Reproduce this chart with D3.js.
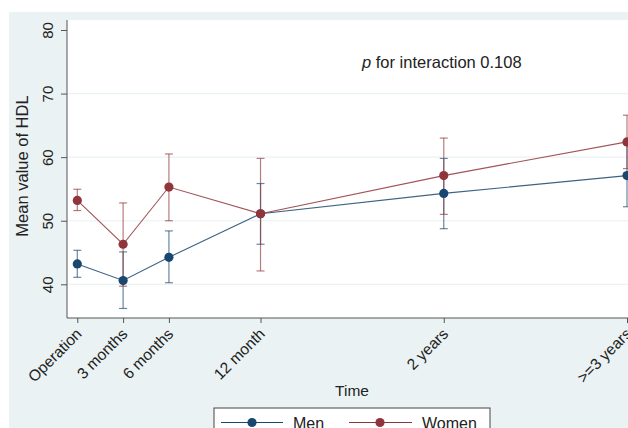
<!DOCTYPE html>
<html>
<head>
<meta charset="utf-8">
<script src="https://cdn.jsdelivr.net/npm/d3@7/dist/d3.min.js"></script>
<style>
  html, body { margin: 0; padding: 0; background: #fff; }
  svg { display: block; font-family: "Liberation Sans", Arial, sans-serif; }
</style>
</head>
<body>
<svg id="chart" width="628" height="428"></svg>
<script>
// Follow-up time points (months after operation) and their labels
const timeLabels = ["Operation", "3 months", "6 months", "12 month", "2 years", ">=3 years"];
const timeMonths = [0, 3, 6, 12, 24, 36];

// Mean HDL with 95% confidence limits
const menMean  = [43.2, 40.6, 44.25, 51.1, 54.3, 57.1];
const menLow   = [41.1, 36.2, 40.25, 46.3, 48.75, 52.2];
const menHigh  = [45.35, 45.1, 48.4, 55.85, 59.8, 62.0];

const womenMean = [53.2, 46.3, 55.3, 51.1, 57.1, 62.4];
const womenLow  = [51.6, 39.7, 50.0, 42.1, 51.0, 58.2];
const womenHigh = [54.95, 52.8, 60.5, 59.8, 63.0, 66.6];

const yTicks = [40, 50, 60, 70, 80];
const seriesNames = ["Men", "Women"];
const annotation = "for interaction 0.108";

const navy = "#1a476f", maroon = "#90353b";
const bg = "#eaf2f3";
const FONT = "Liberation Sans, Arial, sans-serif";

const svg = d3.select("#chart");
const W = 628, H = 428;

// Graph region and plot region
svg.append("rect").attr("x", 9).attr("y", 12).attr("width", W - 9).attr("height", H - 12).attr("fill", bg);
const plot = { left: 67, top: 20, right: 640, bottom: 318 };
svg.append("rect").attr("x", plot.left).attr("y", plot.top)
  .attr("width", plot.right - plot.left).attr("height", plot.bottom - plot.top).attr("fill", "#fff");

const x = d3.scaleLinear().domain([0, 36]).range([77.3, 627]);
const y = d3.scaleLinear().domain([40, 80]).range([284.3, 30]);

// Horizontal grid lines
svg.append("g").selectAll("line").data(yTicks.filter(t => t < 80)).join("line")
  .attr("x1", plot.left).attr("x2", plot.right)
  .attr("y1", d => y(d)).attr("y2", d => y(d))
  .attr("stroke", bg).attr("stroke-width", 1.2);

// Y axis
const yAxis = svg.append("g").attr("transform", `translate(${plot.left},0)`)
  .call(d3.axisLeft(y).tickValues(yTicks).tickSize(6).tickPadding(4).tickFormat(d3.format("d")));
yAxis.attr("font-family", FONT).attr("font-size", 15);
yAxis.select(".domain").attr("d", `M0,${plot.top}V${plot.bottom}`).attr("stroke", "#555");
yAxis.selectAll(".tick line").attr("stroke", "#555");
yAxis.selectAll(".tick text")
  .attr("x", 0).attr("dy", null)
  .attr("transform", "translate(-14,0) rotate(-90)")
  .attr("text-anchor", "middle").attr("dominant-baseline", "auto")
  .attr("fill", "#222");

// X axis
const xAxis = svg.append("g").attr("transform", `translate(0,${plot.bottom})`)
  .call(d3.axisBottom(x).tickValues(timeMonths).tickSize(5).tickFormat((d, i) => timeLabels[i]));
xAxis.attr("font-family", FONT).attr("font-size", 15.5);
xAxis.select(".domain").attr("d", `M${plot.left},0H${plot.right}`).attr("stroke", "#555");
xAxis.selectAll(".tick line").attr("stroke", "#555");
xAxis.selectAll(".tick text")
  .attr("y", 0).attr("dy", null)
  .attr("transform", "translate(1,13) rotate(-45)")
  .attr("text-anchor", "end").attr("dominant-baseline", "central")
  .attr("fill", "#222");

// Axis titles
svg.append("text").attr("x", 352).attr("y", 396).attr("text-anchor", "middle")
  .attr("font-size", 15.5).attr("fill", "#222").text("Time");
svg.append("text").attr("transform", "translate(28,166) rotate(-90)").attr("text-anchor", "middle")
  .attr("font-size", 16.5).attr("fill", "#222").text("Mean value of HDL");

// Annotation
const ann = svg.append("text").attr("x", 362).attr("y", 68).attr("font-size", 16.5).attr("fill", "#222");
ann.append("tspan").attr("font-style", "italic").text("p");
ann.append("tspan").text(" " + annotation);

// Series
const series = [
  { name: seriesNames[0], color: navy, mean: menMean, low: menLow, high: menHigh },
  { name: seriesNames[1], color: maroon, mean: womenMean, low: womenLow, high: womenHigh }
];
const line = d3.line().x((d, i) => x(timeMonths[i])).y(d => y(d));

// Confidence intervals with caps
series.forEach(s => {
  const ci = svg.append("g").attr("stroke", s.color).attr("stroke-opacity", 0.65).attr("stroke-width", 1.2);
  timeMonths.forEach((t, i) => {
    ci.append("line").attr("x1", x(t)).attr("x2", x(t)).attr("y1", y(s.low[i])).attr("y2", y(s.high[i]));
    [s.low[i], s.high[i]].forEach(v => {
      ci.append("line").attr("x1", x(t) - 4).attr("x2", x(t) + 4).attr("y1", y(v)).attr("y2", y(v));
    });
  });
});

// Connected means
series.forEach(s => {
  const g = svg.append("g");
  g.append("path").datum(s.mean).attr("d", line).attr("fill", "none")
    .attr("stroke", s.color).attr("stroke-opacity", 0.85).attr("stroke-width", 1.1);
  g.selectAll("circle").data(s.mean).join("circle")
    .attr("cx", (d, i) => x(timeMonths[i])).attr("cy", d => y(d)).attr("r", 4.6)
    .attr("fill", s.color);
});

// Legend
const lg = svg.append("g");
lg.append("rect").attr("x", 214).attr("y", 408).attr("width", 276).attr("height", 40)
  .attr("fill", "#fff").attr("stroke", "#444").attr("stroke-width", 1);
const legendItems = [
  { x1: 221, x2: 283, cx: 252, tx: 293 },
  { x1: 349, x2: 412, cx: 380, tx: 422 }
];
series.forEach((s, i) => {
  const it = legendItems[i];
  lg.append("line").attr("x1", it.x1).attr("x2", it.x2).attr("y1", 422.5).attr("y2", 422.5)
    .attr("stroke", s.color).attr("stroke-width", 1.1);
  lg.append("circle").attr("cx", it.cx).attr("cy", 422.5).attr("r", 4.6).attr("fill", s.color);
  lg.append("text").attr("x", it.tx).attr("y", 428.5).attr("font-size", 16).attr("fill", "#222").text(s.name);
});
</script>
</body>
</html>
